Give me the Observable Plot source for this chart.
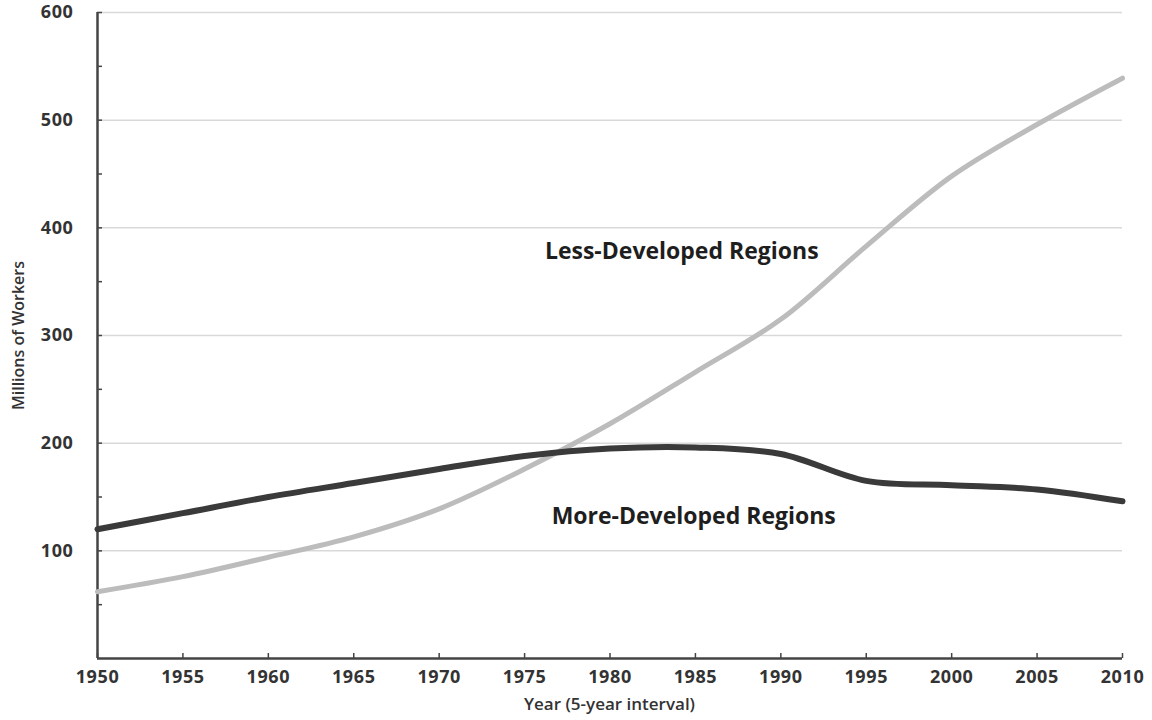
<!DOCTYPE html>
<html>
<head>
<meta charset="utf-8">
<script src="https://cdn.jsdelivr.net/npm/d3@7"></script>
<script src="https://cdn.jsdelivr.net/npm/@observablehq/plot@0.6"></script>
<style>
  html, body { margin: 0; padding: 0; background: #fff; }
  #chart { width: 1152px; height: 720px; }
  svg text { font-family: "Open Sans", Lato, sans-serif; }
</style>
</head>
<body>
<div id="chart"></div>
<script>
const years = [1950, 1955, 1960, 1965, 1970, 1975, 1980, 1985, 1990, 1995, 2000, 2005, 2010];
const lessDeveloped = [62, 76, 94, 113, 139, 176, 218, 266, 315, 383, 448, 496, 539];
const moreDeveloped = [120, 135, 150, 163, 176, 188, 195, 196, 190, 165, 161, 157, 146];
const yTicks = [100, 200, 300, 400, 500, 600];
const yMinorTicks = [50, 100, 150, 200, 250, 300, 350, 400, 450, 500, 550, 600];
const seriesNames = ["Less-Developed Regions", "More-Developed Regions"];
const labelYears = [1984.2, 1984.9];
const labelValues = [378, 132];

const less = years.map((y, i) => ({year: y, value: lessDeveloped[i]}));
const more = years.map((y, i) => ({year: y, value: moreDeveloped[i]}));
const labels = seriesNames.map((n, i) => ({name: n, year: labelYears[i], value: labelValues[i]}));

const chart = Plot.plot({
  width: 1152,
  height: 720,
  marginLeft: 97,
  marginRight: 30,
  marginTop: 12,
  marginBottom: 62,
  style: {background: "#fff", fontFamily: "'Open Sans', Lato, sans-serif"},
  x: {domain: [1950, 2010]},
  y: {domain: [0, 600]},
  marks: [
    Plot.gridY(yTicks, {stroke: "#d9d9d9", strokeOpacity: 1, strokeWidth: 1.5}),
    Plot.axisY(yMinorTicks, {tickSize: -5, text: null, stroke: "#444", strokeWidth: 1.5, label: null}),
    Plot.axisY(yTicks, {tickSize: 0, tickPadding: 24, fontSize: 18, fontWeight: "bold", fill: "#333",
      label: "Millions of Workers", labelAnchor: "center", labelArrow: "none", labelOffset: 85}),
    Plot.axisX(years, {tickSize: -5, text: null, stroke: "#444", strokeWidth: 1.5, label: null}),
    Plot.axisX(years, {tickSize: 0, tickPadding: 12, fontSize: 18, fontWeight: "bold", fill: "#333",
      tickFormat: d => `${d}`, label: null}),
    Plot.ruleX([1950], {stroke: "#444", strokeWidth: 2.5}),
    Plot.ruleY([0], {stroke: "#444", strokeWidth: 2.5}),
    Plot.line(less, {x: "year", y: "value", stroke: "#bcbcbc", strokeWidth: 5, curve: "catmull-rom"}),
    Plot.line(more, {x: "year", y: "value", stroke: "#3a3a3a", strokeWidth: 6, curve: "catmull-rom"}),
    Plot.text(labels, {x: "year", y: "value", text: "name", fontSize: 23, fontWeight: "bold", fill: "#1e1e1e", textAnchor: "middle"})
  ]
});

const svg = d3.select(chart);
svg.selectAll("[aria-label^='y-axis'] text, [aria-label^='x-axis'] text").attr("letter-spacing", "0.6px");
svg.selectAll("[aria-label='y-axis label'] text").attr("font-size", 16).attr("font-weight", 600).attr("fill", "#333").attr("letter-spacing", null);
svg.append("text")
  .attr("x", (97 + 1122) / 2)
  .attr("y", 710)
  .attr("text-anchor", "middle")
  .attr("font-size", 17)
  .attr("font-weight", 600)
  .attr("fill", "#333")
  .text("Year (5-year interval)");

document.getElementById("chart").appendChild(chart);
</script>
</body>
</html>
